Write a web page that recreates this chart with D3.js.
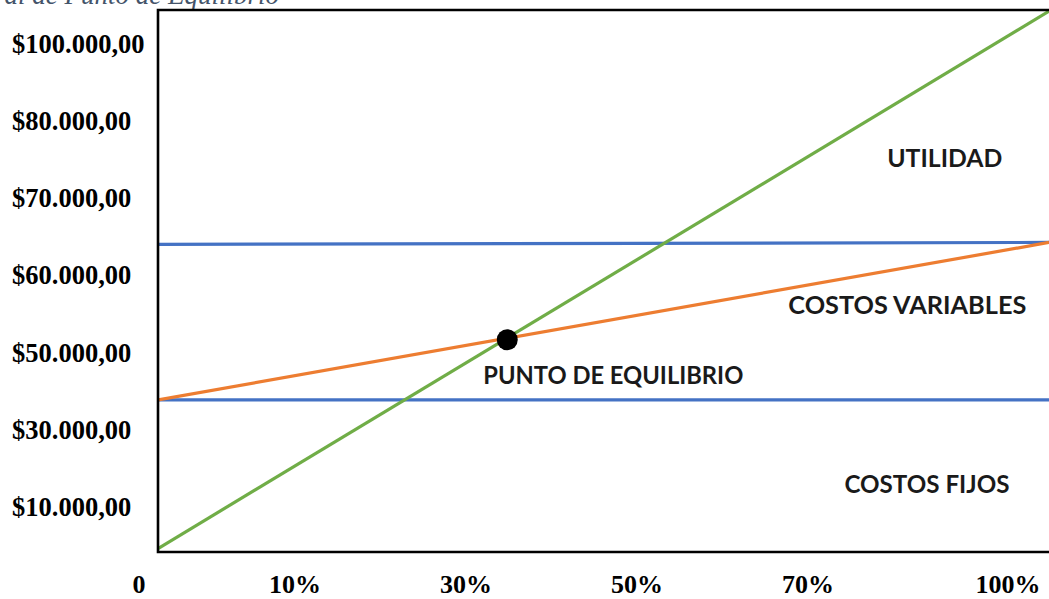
<!DOCTYPE html>
<html>
<head>
<meta charset="utf-8">
<script src="https://cdn.jsdelivr.net/npm/d3@7"></script>
<style>
  html, body { margin: 0; padding: 0; background: #fff; }
  svg { display: block; }
</style>
</head>
<body>
<div id="chart"></div>
<script>
// tick labels
const xLabels = ['0', '10%', '30%', '50%', '70%', '100%'];
const yLabels = ['$10.000,00', '$30.000,00', '$50.000,00', '$60.000,00', '$70.000,00', '$80.000,00', '$100.000,00'];
const yTickValues = [10000, 30000, 50000, 60000, 70000, 80000, 100000];

// volume of production (share of capacity), start and end of each line
const volume = [0, 1];
const ventas = [-500, 108700];
const costosTotales = [64150, 64400];
const costosFijos = [38000, 38000];
const costosVariables = [38000, 64400];
const equilibrio = [{ x: 0.392, y: 51800 }];

const areaLabels = [
  { text: 'UTILIDAD', x: 0.883, y: 74170, len: 115 },
  { text: 'COSTOS VARIABLES', x: 0.841, y: 55130, len: 238 },
  { text: 'PUNTO DE EQUILIBRIO', x: 0.511, y: 42120, len: 260 },
  { text: 'COSTOS FIJOS', x: 0.863, y: 13890, len: 165 },
];

const width = 1049, height = 599;
const plot = { left: 158, top: 10, right: 1049, bottom: 552 };

const svg = d3.select('#chart').append('svg')
  .attr('width', width).attr('height', height);

const x = d3.scaleLinear().domain([0, 1]).range([plot.left, plot.right]);
const yStep = 77.2;
const y = d3.scaleLinear()
  .domain(yTickValues)
  .range(yTickValues.map((_, i) => 508 - i * yStep));

// x tick labels sit at uneven spots in the original
const xLab = d3.scaleLinear().domain([0, 1, 4, 5]).range([139, 295, 808, 1008]);

// title, cut at the top edge
svg.append('text')
  .attr('x', 279).attr('y', 4)
  .attr('text-anchor', 'end')
  .attr('font-family', '"Liberation Serif", "Times New Roman", serif')
  .attr('font-style', 'italic')
  .attr('font-size', 27)
  .attr('fill', '#44546A')
  .text('Gráfica general de Punto de Equilibrio');

// y labels
svg.append('g').selectAll('text').data(yLabels).join('text')
  .attr('x', 12)
  .attr('y', (d, i) => y(yTickValues[i]) + 8)
  .attr('font-family', '"Liberation Serif", "Times New Roman", serif')
  .attr('font-weight', 'bold')
  .attr('font-size', 26.5)
  .attr('fill', '#000')
  .text(d => d);

// x labels
svg.append('g').selectAll('text').data(xLabels).join('text')
  .attr('x', (d, i) => xLab(i))
  .attr('y', 593)
  .attr('text-anchor', 'middle')
  .attr('font-family', '"Liberation Serif", "Times New Roman", serif')
  .attr('font-weight', 'bold')
  .attr('font-size', 26)
  .attr('fill', '#000')
  .text(d => d);

svg.append('clipPath').attr('id', 'plotclip')
  .append('rect')
  .attr('x', plot.left).attr('y', plot.top)
  .attr('width', plot.right - plot.left).attr('height', plot.bottom - plot.top);

const lines = [
  { values: costosFijos, color: '#4472C4' },
  { values: costosTotales, color: '#4472C4' },
  { values: costosVariables, color: '#ED7D31' },
  { values: ventas, color: '#70AD47' },
];

const line = d3.line().x(d => x(d[0])).y(d => y(d[1]));
const lg = svg.append('g').attr('clip-path', 'url(#plotclip)');
lg.selectAll('path').data(lines).join('path')
  .attr('d', d => line(volume.map((v, i) => [v, d.values[i]])))
  .attr('fill', 'none')
  .attr('stroke', d => d.color)
  .attr('stroke-width', 3.2);

// frame (no right side visible)
svg.append('path')
  .attr('d', `M${plot.right},${plot.top}H${plot.left}V${plot.bottom}H${plot.right}`)
  .attr('fill', 'none')
  .attr('stroke', '#000')
  .attr('stroke-width', 2.6);

svg.append('g').selectAll('circle').data(equilibrio).join('circle')
  .attr('cx', d => x(d.x)).attr('cy', d => y(d.y))
  .attr('r', 10.5)
  .attr('fill', '#000');

svg.append('g').selectAll('text').data(areaLabels).join('text')
  .attr('x', d => x(d.x)).attr('y', d => y(d.y))
  .attr('text-anchor', 'middle')
  .attr('font-family', 'Lato, "Open Sans", sans-serif')
  .attr('font-weight', 'bold')
  .attr('font-size', 24)
  .attr('fill', '#1a1a1a')
  .attr('textLength', d => d.len)
  .attr('lengthAdjust', 'spacingAndGlyphs')
  .text(d => d.text);
</script>
</body>
</html>
